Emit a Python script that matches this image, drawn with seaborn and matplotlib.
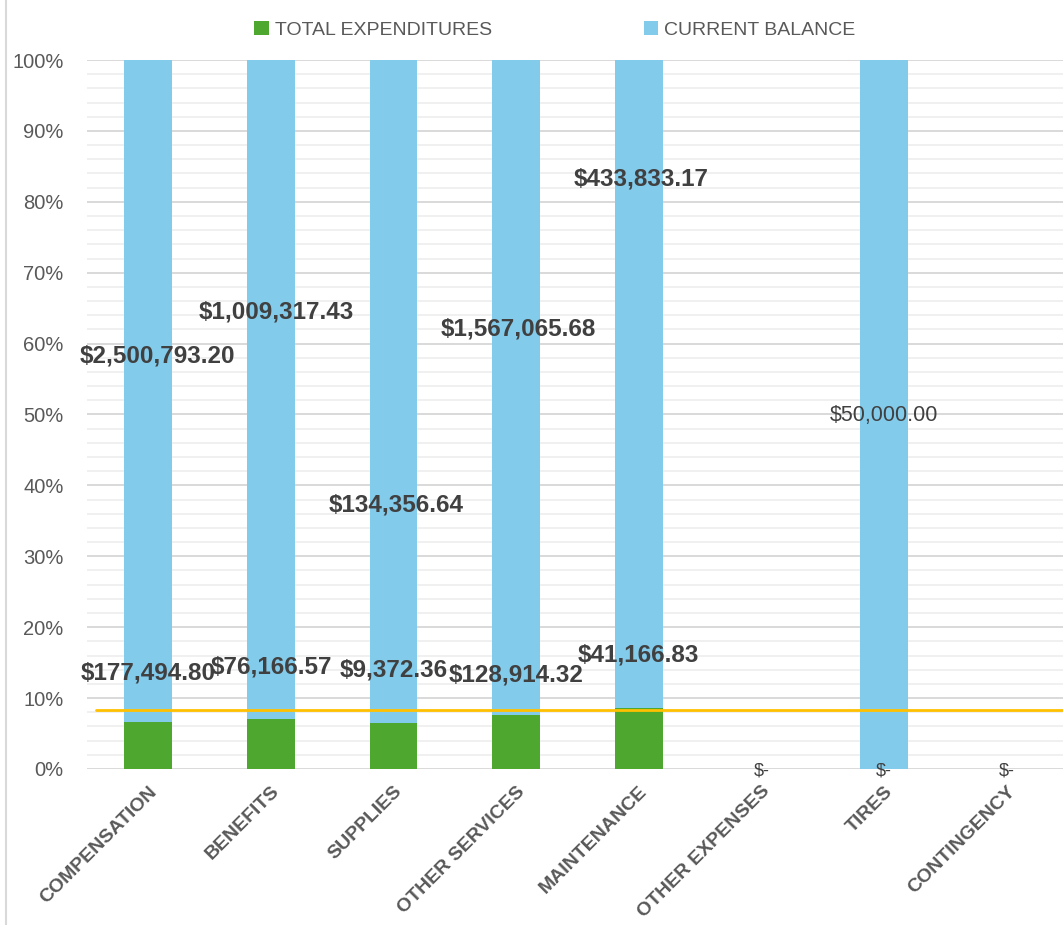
import matplotlib
matplotlib.use("Agg")
import matplotlib.pyplot as plt
import matplotlib.ticker as mticker
from matplotlib.patches import Patch
from matplotlib.lines import Line2D
import pandas as pd
import seaborn as sns

categories = ["COMPENSATION", "BENEFITS", "SUPPLIES", "OTHER SERVICES",
              "MAINTENANCE", "OTHER EXPENSES", "TIRES", "CONTINGENCY"]
total_expenditures = [177494.80, 76166.57, 9372.36, 128914.32, 41166.83, 0.0, 0.0, 0.0]
current_balance = [2500793.20, 1009317.43, 134356.64, 1567065.68, 433833.17, 0.0, 50000.00, 0.0]
target_share = 1 / 12  # yellow reference line

# label placement (percent of bar), as Excel put them
bal_label_y = [58.3, 64.4, 37.3, 62.0, 83.2, 0.0, 49.9, 0.0]
bal_label_dx = [0.075, 0.04, 0.02, 0.02, 0.02, 0.0, 0.0, 0.0]
exp_label_y = [13.6, 14.4, 14.0, 13.3, 16.1, -0.3, -0.3, -0.3]
bold_labels = [True, True, True, True, True, False, False, False]

GREEN = "#4EA72E"
BLUE = "#83CBEB"
YELLOW = "#FFC000"
TXT = "#404040"

df = pd.DataFrame({"category": categories,
                   "exp": total_expenditures,
                   "bal": current_balance})
df["total"] = df["exp"] + df["bal"]
df["exp_pct"] = (df["exp"] / df["total"]).fillna(0)
df["top_pct"] = ((df["exp"] + df["bal"]) / df["total"]).fillna(0)

sns.set_style("white")
plt.rcParams["font.family"] = ["Liberation Sans", "DejaVu Sans"]

fig = plt.figure(figsize=(10.63, 9.25), dpi=100)
ax = fig.add_axes([87 / 1063, 156 / 925, 981 / 1063, 709 / 925])

sns.barplot(data=df, x="category", y="top_pct", order=categories, color=BLUE,
            width=0.39, saturation=1, linewidth=0, ax=ax, zorder=2)
sns.barplot(data=df, x="category", y="exp_pct", order=categories, color=GREEN,
            width=0.39, saturation=1, linewidth=0, ax=ax, zorder=3)

ax.axhline(target_share, xmin=9 / 981, xmax=1, color=YELLOW, lw=2, zorder=4)

ax.set_xlim(-0.5, 7.5)
ax.set_ylim(0, 1)
ax.yaxis.set_major_locator(mticker.MultipleLocator(0.1))
ax.yaxis.set_minor_locator(mticker.MultipleLocator(0.02))
ax.yaxis.set_major_formatter(mticker.PercentFormatter(1.0, decimals=0))
ax.grid(which="major", axis="y", color="#D9D9D9", lw=1.4, zorder=0)
ax.grid(which="minor", axis="y", color="#F0F0F0", lw=1.4, zorder=0)
ax.set_axisbelow(True)
for s in ax.spines.values():
    s.set_visible(False)
ax.tick_params(axis="both", which="both", length=0)
ax.tick_params(axis="y", labelsize=14.5, labelcolor="#595959", pad=17)
ax.set_xlabel("")
ax.set_ylabel("")
ax.set_xticks(range(len(categories)))
ax.set_xticklabels(categories, rotation=45, ha="right", va="top",
                   rotation_mode="anchor", fontsize=14, fontweight="bold",
                   color="#595959")
ax.tick_params(axis="x", pad=10)


def money(v):
    return "$-" if v == 0 else f"${v:,.2f}"


for i, row in df.iterrows():
    if row["total"] > 0 and row["bal"] > 0:
        ax.text(i + bal_label_dx[i], bal_label_y[i] / 100, money(row["bal"]),
                ha="center", va="center", fontsize=17.5 if bold_labels[i] else 15.5,
                fontweight="bold" if bold_labels[i] else "normal",
                color=TXT, zorder=5)
    ax.text(i, exp_label_y[i] / 100, money(row["exp"]),
            ha="center", va="center", fontsize=17.5 if bold_labels[i] else 13,
            fontweight="bold" if bold_labels[i] else "normal",
            color=TXT, zorder=5, clip_on=False)

handles = [Patch(facecolor=GREEN, edgecolor="none", label="TOTAL EXPENDITURES"),
           Patch(facecolor=BLUE, edgecolor="none", label="CURRENT BALANCE")]
fig.legend(handles=handles, loc="center", bbox_to_anchor=(0.522, 0.968), ncol=2,
           frameon=False, fontsize=14, labelcolor="#595959",
           handlelength=0.75, handleheight=0.75, handletextpad=0.3,
           columnspacing=7.8)

fig.add_artist(Line2D([6 / 1063, 6 / 1063], [0, 1], color="#D9D9D9", lw=1.5))

fig.savefig("out.png", dpi=100)
